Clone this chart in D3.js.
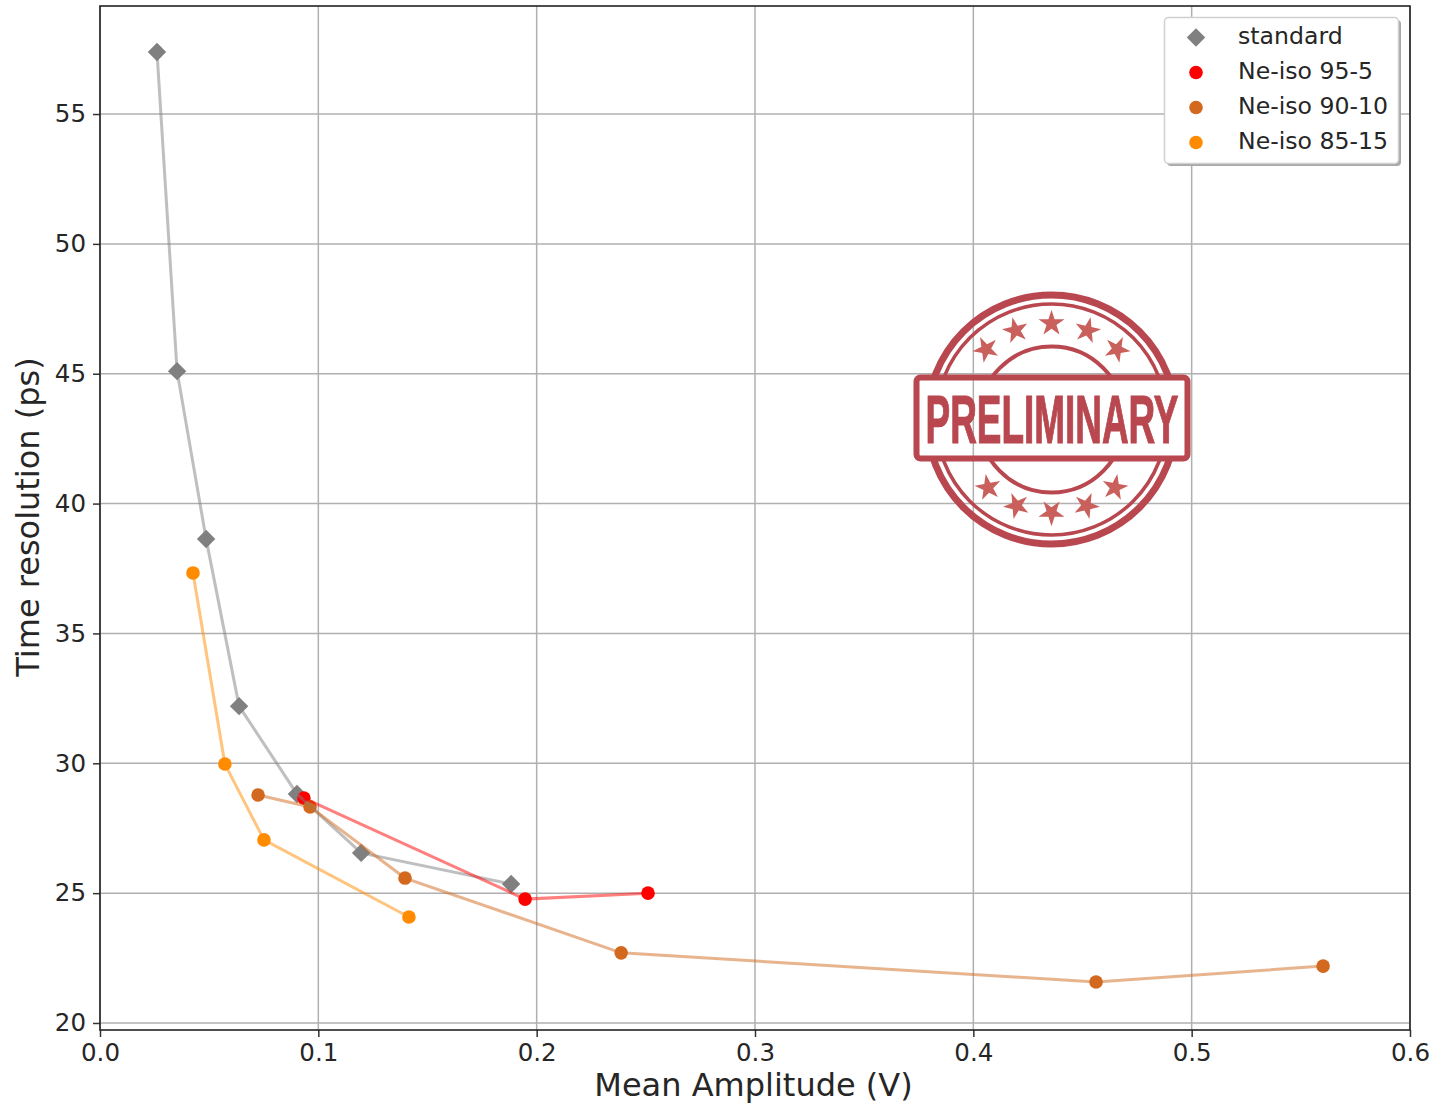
<!DOCTYPE html>
<html lang="en">
<head>
  <meta charset="UTF-8">
  <title>Time resolution vs mean amplitude</title>
  <script src="https://d3js.org/d3.v7.min.js"></script>
  <style>
    body {
      margin: 0;
      background: white;
      font-family: "DejaVu Sans", sans-serif;
    }

    svg {
      display: block;
    }

    .tick text {
      font-family: "DejaVu Sans", sans-serif;
      font-size: 24.5px;
      fill: #262626;
    }

    .tick line {
      stroke: #333;
      stroke-width: 1.5px;
    }

    .grid line {
      stroke: #b0b0b0;
      stroke-width: 1.5px;
    }

    .axis-label {
      font-size: 32px;
      fill: #262626;
      text-anchor: middle;
    }

    .legend text {
      font-size: 23.6px;
      fill: #262626;
    }
  </style>
</head>
<body>
<div id="chart"></div>

<script>
  var seriesNames = ["standard", "Ne-iso 95-5", "Ne-iso 90-10", "Ne-iso 85-15"];
  var seriesColors = ["#808080", "#ff0000", "#d2691e", "#ff8c00"];
  var seriesSymbols = ["diamond", "circle", "circle", "circle"];

  var standardX = [0.0261, 0.0353, 0.0486, 0.0637, 0.0902, 0.1196, 0.1883];
  var standardY = [57.39, 45.1, 38.64, 32.2, 28.82, 26.55, 25.35];
  var ne95X = [0.0934, 0.1947, 0.2510];
  var ne95Y = [28.66, 24.77, 25.0];
  var ne90X = [0.0724, 0.0962, 0.1397, 0.2387, 0.4562, 0.5602];
  var ne90Y = [28.78, 28.32, 25.58, 22.7, 21.58, 22.19];
  var ne85X = [0.0426, 0.0572, 0.0751, 0.1415];
  var ne85Y = [37.33, 29.97, 27.05, 24.08];

  var xTicks = [0, 0.1, 0.2, 0.3, 0.4, 0.5, 0.6];
  var yTicks = [20, 25, 30, 35, 40, 45, 50, 55];
  var xTitle = "Mean Amplitude (V)";
  var yTitle = "Time resolution (ps)";
  var stampWord = "PRELIMINARY";
  var stampStarAngles = [0, 22, 43, -22, -43, 180, 158, 137, -158, -137];

  var allX = [standardX, ne95X, ne90X, ne85X];
  var allY = [standardY, ne95Y, ne90Y, ne85Y];
  var series = seriesNames.map(function(name, i) {
    return {
      name: name,
      color: seriesColors[i],
      symbol: seriesSymbols[i],
      points: allX[i].map(function(x, j) { return [x, allY[i][j]]; })
    };
  });

  var width = 1432;
  var height = 1103;
  var plotLeft = 100, plotRight = 1410, plotTop = 6, plotBottom = 1030;

  var svg = d3.select("#chart")
    .append("svg")
    .attr("width", width)
    .attr("height", height);

  var x = d3.scaleLinear().domain([0, 0.6]).range([plotLeft, plotRight]);
  var y = d3.scaleLinear().domain([19.73, 59.16]).range([plotBottom, plotTop]);

  // grid
  var grid = svg.append("g").attr("class", "grid");
  grid.selectAll(".gx").data(xTicks).enter().append("line")
    .attr("x1", d => x(d)).attr("x2", d => x(d))
    .attr("y1", plotTop).attr("y2", plotBottom);
  grid.selectAll(".gy").data(yTicks).enter().append("line")
    .attr("x1", plotLeft).attr("x2", plotRight)
    .attr("y1", d => y(d)).attr("y2", d => y(d));

  drawStamp(svg, 1051.5, 419.5);

  // markers sit under the lines, like matplotlib scatter + plot
  function symbolFor(d) {
    return d.symbol === "diamond"
      ? d3.symbol().type(d3.symbolSquare).size(170)()
      : d3.symbol().type(d3.symbolCircle).size(145)();
  }

  var line = d3.line().x(d => x(d[0])).y(d => y(d[1]));

  series.forEach(function(s) {
    svg.append("g").selectAll("path")
      .data(s.points)
      .enter().append("path")
      .attr("d", symbolFor(s))
      .attr("fill", s.color)
      .attr("transform", d => "translate(" + x(d[0]) + "," + y(d[1]) + ")" + (s.symbol === "diamond" ? " rotate(45)" : ""));
  });

  series.forEach(function(s) {
    svg.append("path")
      .datum(s.points)
      .attr("d", line)
      .attr("fill", "none")
      .attr("stroke", s.color)
      .attr("stroke-opacity", 0.5)
      .attr("stroke-width", 3);
  });

  // axes
  var xAxis = svg.append("g")
    .attr("transform", "translate(0," + plotBottom + ")")
    .call(d3.axisBottom(x).tickValues(xTicks).tickFormat(d3.format(".1f")).tickSize(7).tickPadding(7));
  var yAxis = svg.append("g")
    .attr("transform", "translate(" + plotLeft + ",0)")
    .call(d3.axisLeft(y).tickValues(yTicks).tickSize(7).tickPadding(7));
  xAxis.select(".domain").remove();
  yAxis.select(".domain").remove();

  svg.append("rect")
    .attr("x", plotLeft).attr("y", plotTop)
    .attr("width", plotRight - plotLeft).attr("height", plotBottom - plotTop)
    .attr("fill", "none")
    .attr("stroke", "#222")
    .attr("stroke-width", 1.6);

  svg.append("text")
    .attr("class", "axis-label")
    .attr("x", 753.5).attr("y", 1096)
    .text(xTitle);
  svg.append("text")
    .attr("class", "axis-label")
    .attr("transform", "translate(39,517) rotate(-90)")
    .text(yTitle);

  // legend
  var legend = svg.append("g").attr("class", "legend");
  legend.append("rect")
    .attr("x", 1167).attr("y", 20).attr("width", 234).attr("height", 146)
    .attr("rx", 4).attr("fill", "#a8a8a8");
  legend.append("rect")
    .attr("x", 1164.5).attr("y", 17.5).attr("width", 234).attr("height", 146)
    .attr("rx", 4).attr("fill", "white").attr("stroke", "#d0d0d0").attr("stroke-width", 1.5);

  var rowY = d3.scalePoint().domain(seriesNames).range([37.5, 142.5]);
  var rows = legend.selectAll(".row").data(series).enter().append("g")
    .attr("class", "row")
    .attr("transform", d => "translate(0," + rowY(d.name) + ")");
  rows.append("path")
    .attr("d", symbolFor)
    .attr("fill", d => d.color)
    .attr("transform", d => "translate(1196,0)" + (d.symbol === "diamond" ? " rotate(45)" : ""));
  rows.append("text")
    .attr("x", 1238).attr("y", 6)
    .text(d => d.name);

  function drawStamp(parent, cx, cy) {
    var red = "#b8474f";
    var g = parent.append("g").attr("transform", "translate(" + cx + "," + cy + ")");

    // rings stop at the band
    var defs = parent.append("defs");
    var clip = defs.append("clipPath").attr("id", "stamp-clip");
    clip.append("rect").attr("x", -140).attr("y", -140).attr("width", 280).attr("height", 96);
    clip.append("rect").attr("x", -140).attr("y", 40).attr("width", 280).attr("height", 100);

    var rings = g.append("g").attr("clip-path", "url(#stamp-clip)").attr("fill", "none").attr("stroke", red);
    rings.append("circle").attr("r", 124.5).attr("stroke-width", 7);
    rings.append("circle").attr("r", 115.5).attr("stroke-width", 3.5);
    rings.append("circle").attr("r", 73).attr("stroke-width", 4);

    g.append("rect")
      .attr("x", -135).attr("y", -42).attr("width", 271).attr("height", 81)
      .attr("rx", 4)
      .attr("fill", "none")
      .attr("stroke", red)
      .attr("stroke-width", 6);

    g.append("text")
      .attr("x", -126).attr("y", 23.5)
      .attr("textLength", 253)
      .attr("lengthAdjust", "spacingAndGlyphs")
      .attr("font-family", "'Liberation Sans Narrow', 'Liberation Sans', sans-serif")
      .attr("font-weight", "bold")
      .attr("font-size", 69)
      .attr("fill", red)
      .attr("stroke", red)
      .attr("stroke-width", 1.2)
      .text(stampWord);

    g.selectAll(".star").data(stampStarAngles).enter().append("path")
      .attr("class", "star")
      .attr("d", d3.symbol().type(d3.symbolStar).size(210)())
      .attr("fill", "#c9605c")
      .attr("transform", function(a) {
        var t = a * Math.PI / 180;
        var r = Math.abs(a) > 90 ? 93 : 96;
        return "translate(" + (r * Math.sin(t)) + "," + (-r * Math.cos(t)) + ") rotate(" + (a * 0.6) + ")";
      });
  }
</script>
</body>
</html>
